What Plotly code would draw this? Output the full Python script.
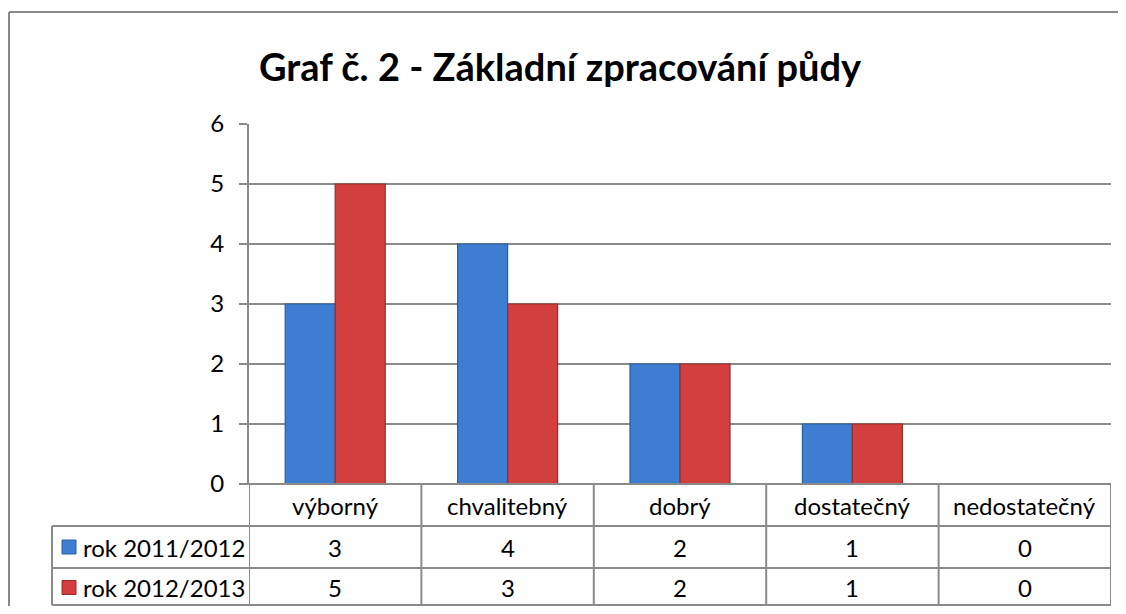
import plotly.graph_objects as go

categories = ["výborný", "chvalitebný", "dobrý", "dostatečný", "nedostatečný"]
series_names = ["rok 2011/2012", "rok 2012/2013"]
values_2011 = [3, 4, 2, 1, 0]
values_2012 = [5, 3, 2, 1, 0]
y_ticks = [0, 1, 2, 3, 4, 5, 6]
title_text = "Graf č. 2 - Základní zpracování půdy"

OFF = 8  # page body margin
W, H = 1126 - 2 * OFF, 614 - 2 * OFF
FONT = "Lato"
GRID = "#8a8a8a"

def px(x):
    return (x - OFF) / W

def py(y):
    return 1 - (y - OFF) / H

# layout positions (screen pixels)
PL, PR, PT, PB = 249, 1111, 124, 484
ROW1, ROW2, ROW3 = 526, 568, 605
TABLE_LEFT = 52

colors = ["#3d7ed2", "#d23f3e"]
edges = ["#2b5e9e", "#962d2b"]
series = [values_2011, values_2012]

fig = go.Figure()
for name, vals, c, e in zip(series_names, series, colors, edges):
    fig.add_trace(go.Bar(
        x=categories, y=vals, name=name,
        marker=dict(color=c, line=dict(color=e, width=1.2)),
        showlegend=False,
    ))

shapes = []
annotations = []

# outer chart border (top and left edges visible)
shapes.append(dict(type="line", xref="paper", yref="paper",
                   x0=px(9), x1=1.0, y0=py(12), y1=py(12),
                   line=dict(color="#8a8a8a", width=2)))
shapes.append(dict(type="line", xref="paper", yref="paper",
                   x0=px(9), x1=px(9), y0=0.0, y1=py(12),
                   line=dict(color="#8a8a8a", width=2)))

for yy in (ROW1, ROW2, ROW3):
    shapes.append(dict(type="line", xref="paper", yref="paper",
                       x0=px(TABLE_LEFT), x1=px(PR), y0=py(yy), y1=py(yy),
                       line=dict(color=GRID, width=2)))
shapes.append(dict(type="line", xref="paper", yref="paper",
                   x0=px(PL - 8), x1=px(PR), y0=py(PB), y1=py(PB),
                   line=dict(color=GRID, width=2)))
shapes.append(dict(type="line", xref="paper", yref="paper",
                   x0=px(TABLE_LEFT), x1=px(TABLE_LEFT), y0=py(ROW1), y1=py(ROW3),
                   line=dict(color=GRID, width=2)))
n = len(categories)
for i in range(n + 1):
    shapes.append(dict(type="line", xref="x", yref="paper",
                       x0=i - 0.5, x1=i - 0.5, y0=py(ROW3), y1=py(PB),
                       line=dict(color=GRID, width=2)))

row_centers = [(PB + ROW1) / 2, (ROW1 + ROW2) / 2, (ROW2 + ROW3 + 2) / 2]
for i, cat in enumerate(categories):
    annotations.append(dict(x=cat, xref="x", y=py(row_centers[0]), yref="paper",
                            text=cat, showarrow=False, xanchor="center", yanchor="middle",
                            font=dict(family=FONT, size=24, color="#000")))
    for r, vals in enumerate(series):
        annotations.append(dict(x=cat, xref="x", y=py(row_centers[r + 1]), yref="paper",
                                text=str(vals[i]), showarrow=False,
                                xanchor="center", yanchor="middle",
                                font=dict(family=FONT, size=24, color="#000")))

for r, (name, c, e) in enumerate(zip(series_names, colors, edges)):
    cy = row_centers[r + 1]
    shapes.append(dict(type="rect", xref="paper", yref="paper",
                       x0=px(62), x1=px(76), y0=py(cy + 7), y1=py(cy - 7),
                       fillcolor=c, line=dict(color=e, width=1)))
    annotations.append(dict(x=px(81), xref="paper", y=py(cy), yref="paper",
                            text=name, showarrow=False, xanchor="left", yanchor="middle",
                            font=dict(family=FONT, size=24, color="#000")))

annotations.append(dict(x=px(560), xref="paper", y=py(66), yref="paper",
                        text="<b>" + title_text + "</b>", showarrow=False,
                        xanchor="center", yanchor="middle",
                        font=dict(family=FONT, size=38, color="#000")))

fig.update_layout(
    width=W, height=H,
    margin=dict(l=0, r=0, t=0, b=0, autoexpand=False),
    paper_bgcolor="white", plot_bgcolor="white",
    barmode="group", bargap=0.42, bargroupgap=0,
    shapes=shapes, annotations=annotations,
    xaxis=dict(domain=[px(PL), px(PR)], range=[-0.5, n - 0.5],
               showticklabels=False, showgrid=False, zeroline=False,
               showline=False, ticks="", automargin=False),
    yaxis=dict(domain=[py(PB), py(PT)], range=[0, 6], tickvals=y_ticks,
               showgrid=True, gridcolor=GRID, gridwidth=2,
               showline=True, linecolor=GRID, linewidth=2,
               ticks="outside", ticklen=8, tickcolor=GRID, tickwidth=2,
               zeroline=False, ticklabelstandoff=10, automargin=False,
               tickfont=dict(family=FONT, size=24, color="#000")),
)

fig.write_html("out.html")
